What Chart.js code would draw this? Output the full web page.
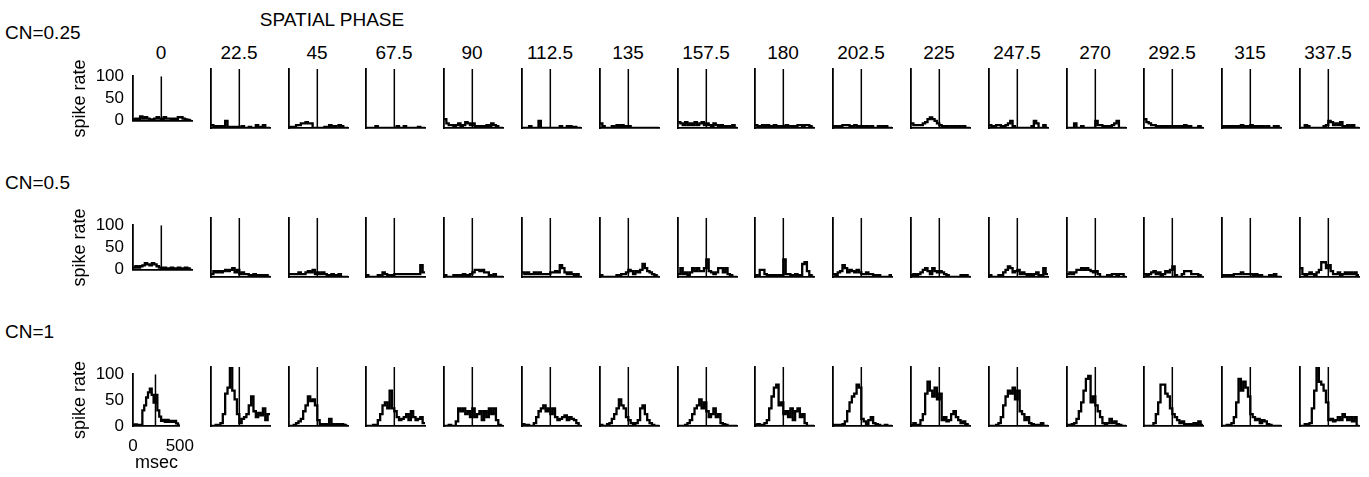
<!DOCTYPE html>
<html>
<head>
<meta charset="utf-8">
<script src="https://cdn.jsdelivr.net/npm/chart.js@4.4.1/dist/chart.umd.min.js"></script>
<style>
  body { margin: 0; background: #fff; width: 1369px; height: 477px; position: relative; overflow: hidden;
         font-family: "Liberation Sans", Arial, Helvetica, sans-serif; color: #000; }
  .lbl { position: absolute; white-space: nowrap; line-height: 1; }
  canvas { position: absolute; }
</style>
</head>
<body>
<script>
// spatial phase of each column (deg)
const phases = ["0", "22.5", "45", "67.5", "90", "112.5", "135", "157.5",
                "180", "202.5", "225", "247.5", "270", "292.5", "315", "337.5"];
const contrasts = ["CN=0.25", "CN=0.5", "CN=1"];
const binWidth = 20;      // msec per bin, 25 bins = 0..500 msec
const stimTime = 240;     // vertical marker (msec)
const yTicks = [0, 50, 100];
const xTicks = [0, 500];

// spike rate per bin, one list per phase
const rateCN025 = [
  [3,5,3,10,5,8,5,3,3,5,8,5,3,8,5,5,3,5,3,8,8,5,3,2,0],
  [5,3,3,2,3,0,12,2,0,2,0,2,0,3,0,0,2,0,0,5,0,2,5,0,0],
  [2,0,2,5,5,8,8,10,8,8,0,0,0,0,0,2,0,5,0,3,0,5,3,0,0],
  [0,0,0,0,3,0,0,0,0,0,0,0,0,3,0,0,3,0,0,0,0,0,2,0,0],
  [15,8,5,5,3,5,8,3,5,10,8,5,8,3,3,2,3,2,5,3,8,5,3,0,0],
  [0,0,0,3,0,0,0,12,0,0,0,0,0,0,0,0,3,0,0,3,3,0,2,0,0],
  [8,3,0,0,0,3,0,5,3,5,3,3,3,0,0,0,0,0,0,0,0,0,0,0,0],
  [10,8,5,10,5,8,5,10,5,8,10,5,8,5,3,8,5,3,5,3,2,3,0,5,0],
  [5,3,3,5,3,5,3,3,5,3,3,3,3,5,3,3,3,3,5,5,3,5,5,3,0],
  [3,3,2,3,5,5,5,3,3,5,3,3,3,2,3,0,3,0,0,3,0,3,3,0,0],
  [8,5,5,5,5,8,10,15,18,15,12,8,5,3,3,3,0,3,3,0,3,0,3,0,0],
  [5,3,3,5,5,3,3,5,8,12,3,0,0,0,0,0,0,0,3,12,8,0,0,5,0],
  [0,0,0,8,0,0,3,0,0,0,0,0,12,5,5,3,3,3,3,5,8,12,0,0,0],
  [15,10,8,5,5,3,3,3,3,3,3,3,3,3,3,3,3,5,3,3,0,0,0,3,0],
  [3,0,3,3,3,3,3,3,5,3,3,3,5,3,3,3,3,3,0,3,0,0,3,3,0],
  [0,0,5,3,0,0,0,0,0,0,3,5,12,10,5,8,5,10,3,3,5,3,5,0,0]
];
const rateCN05 = [
  [5,8,5,8,10,15,12,10,15,12,8,5,3,5,3,3,5,3,3,5,3,3,5,3,0],
  [5,10,8,10,8,10,12,10,12,15,8,12,5,8,5,5,3,3,5,3,3,3,3,3,0],
  [5,5,5,5,8,5,5,8,10,8,12,5,8,5,8,5,3,3,5,3,3,5,0,0,0],
  [3,0,0,0,0,3,0,8,5,3,0,3,5,5,5,5,5,5,5,5,5,5,5,20,8],
  [3,0,0,0,3,3,3,3,5,3,3,5,8,12,12,10,12,8,8,3,0,5,0,0,0],
  [8,5,8,5,5,8,5,8,5,5,5,5,8,8,10,8,20,15,8,5,8,5,3,5,0],
  [3,0,0,0,0,0,0,3,3,5,5,8,12,10,5,10,8,12,22,15,10,8,5,3,0],
  [5,15,5,8,3,8,15,10,15,10,10,15,30,10,8,5,8,15,15,8,15,5,3,0,0],
  [3,0,12,12,5,3,3,3,3,3,3,3,30,5,5,3,3,5,3,3,22,25,10,3,0],
  [5,3,8,10,20,15,8,12,10,8,12,8,5,5,8,5,5,3,3,3,0,0,0,0,3],
  [3,5,3,5,8,12,15,10,5,15,10,8,10,8,5,3,0,0,0,0,0,3,3,3,0],
  [3,0,0,0,3,3,8,12,18,15,8,10,12,5,8,5,3,5,3,5,8,3,3,15,5],
  [5,8,5,8,12,12,15,12,15,12,10,8,10,5,0,0,0,3,0,5,5,0,5,5,0],
  [5,3,5,8,10,5,8,3,5,10,8,12,18,3,0,0,5,10,10,10,5,5,5,3,0],
  [3,0,3,3,3,5,5,5,8,5,5,5,5,3,5,3,3,0,0,0,3,0,5,0,0],
  [15,5,3,5,8,5,3,8,12,25,25,15,20,10,5,5,8,3,5,8,5,8,5,8,3]
];
const rateCN1 = [
  [2,3,0,2,0,30,40,55,65,72,60,45,60,30,18,10,12,8,12,8,10,8,10,5,2],
  [0,0,2,0,5,20,55,65,100,60,45,20,5,12,15,20,35,50,25,15,22,18,30,10,20],
  [0,0,2,5,8,12,25,35,50,42,45,35,10,3,2,3,2,12,3,2,3,2,3,2,0],
  [0,0,0,2,0,10,20,35,40,30,60,30,25,15,10,12,15,20,10,25,15,10,12,15,5],
  [0,0,2,0,0,8,30,25,30,20,25,15,30,15,20,25,10,25,15,30,20,30,10,2,0],
  [3,0,2,0,0,5,15,25,30,35,25,30,20,30,15,10,12,15,18,10,15,12,10,5,0],
  [2,0,0,3,5,12,20,30,45,35,30,15,10,5,3,5,10,30,35,20,10,5,2,0,0],
  [0,0,0,2,5,10,20,30,35,45,30,40,25,15,20,30,15,20,5,3,2,0,0,0,0],
  [2,3,0,2,5,10,30,50,65,70,35,40,20,25,15,30,10,25,30,15,20,5,0,0,0],
  [2,0,2,0,3,8,25,40,50,55,70,65,12,8,3,10,15,5,3,2,0,0,2,0,0],
  [2,5,0,2,10,20,55,75,60,50,65,45,55,10,15,8,10,20,25,15,10,5,8,3,0],
  [0,0,0,2,5,15,35,50,60,55,65,45,60,25,20,10,15,5,3,0,2,0,5,0,0],
  [2,0,3,5,12,25,40,60,80,85,40,50,35,25,15,5,2,5,12,5,8,3,2,0,0],
  [0,0,0,0,5,20,40,70,70,55,50,30,20,15,10,5,8,3,2,3,2,5,3,8,2],
  [0,0,2,0,5,15,40,80,60,75,65,50,20,15,10,12,5,10,8,3,2,0,0,0,0],
  [0,0,3,0,5,30,60,100,75,70,60,40,10,12,8,10,15,10,20,15,10,15,8,15,0]
];
const rows = [rateCN025, rateCN05, rateCN1];

// layout of the grid
const panelX0 = 133, panelStep = 77.8, panelW = 59, panelH = 59;
const rowTop = [69, 218, 367];
const labelBase = [39, 189, 338];
const pad = 12;
const FONT = '"Liberation Sans", Arial, Helvetica, sans-serif';

function addLabel(text, x, baseline, size, align) {
  const d = document.createElement("div");
  d.className = "lbl";
  d.textContent = text;
  d.style.fontSize = size + "px";
  d.style.top = (baseline - 0.8465 * size) + "px";
  d.style.left = x + "px";
  if (align === "center") d.style.transform = "translateX(-50%)";
  document.body.appendChild(d);
}

addLabel("SPATIAL PHASE", 332, 26, 19, "center");
contrasts.forEach((c, r) => addLabel(c, 5, labelBase[r], 19));
phases.forEach((p, i) => addLabel(p, Math.round(panelX0 + i * panelStep) + 28, 59, 19, "center"));

function makePanel(row, col, values) {
  const first = col === 0;
  const bottom = row === 2 && col === 0;
  const yAxisW = first ? 64 : 0;
  const xAxisH = bottom ? 48 : 0;

  const canvas = document.createElement("canvas");
  canvas.width = yAxisW + panelW + 2 * pad;
  canvas.height = panelH + xAxisH + 2 * pad;
  canvas.style.left = (Math.round(panelX0 + col * panelStep) - pad - yAxisW) + "px";
  canvas.style.top = (rowTop[row] - pad) + "px";
  document.body.appendChild(canvas);

  const hist = values.map((v, i) => ({ x: i * binWidth, y: v }));
  hist.push({ x: values.length * binWidth, y: values[values.length - 1] });

  new Chart(canvas.getContext("2d"), {
    type: "line",
    data: {
      datasets: [
        { data: hist, stepped: true, borderColor: "#000", borderWidth: 2.3, pointRadius: 0, fill: false },
        { data: [{ x: stimTime, y: 0 }, { x: stimTime, y: 100 }], borderColor: "#000", borderWidth: 1.5, pointRadius: 0 }
      ]
    },
    options: {
      responsive: false,
      animation: false,
      events: [],
      layout: { padding: pad },
      plugins: { legend: { display: false }, tooltip: { enabled: false } },
      scales: {
        x: {
          type: "linear", min: 0, max: 500,
          grid: { display: false, drawTicks: false },
          border: { display: true, color: "#000", width: 1.8 },
          ticks: { display: bottom, padding: 10, color: "#000", font: { family: FONT, size: 17 } },
          afterBuildTicks: s => { s.ticks = xTicks.map(v => ({ value: v })); },
          title: { display: bottom, text: "msec", color: "#000", padding: 0, font: { family: FONT, size: 18 } },
          afterFit: s => { s.height = xAxisH; }
        },
        y: {
          type: "linear", min: 0, max: 100,
          grid: { display: false, drawTicks: false },
          border: { display: true, color: "#000", width: 1.8 },
          ticks: { display: first, padding: 9, color: "#000", font: { family: FONT, size: 17 } },
          afterBuildTicks: s => { s.ticks = yTicks.map(v => ({ value: v })); },
          title: { display: first, text: "spike rate", color: "#000", padding: 0, font: { family: FONT, size: 18 } },
          afterFit: s => { s.width = yAxisW; }
        }
      }
    }
  });
}

rows.forEach((series, r) => series.forEach((vals, c) => makePanel(r, c, vals)));
</script>
</body>
</html>
